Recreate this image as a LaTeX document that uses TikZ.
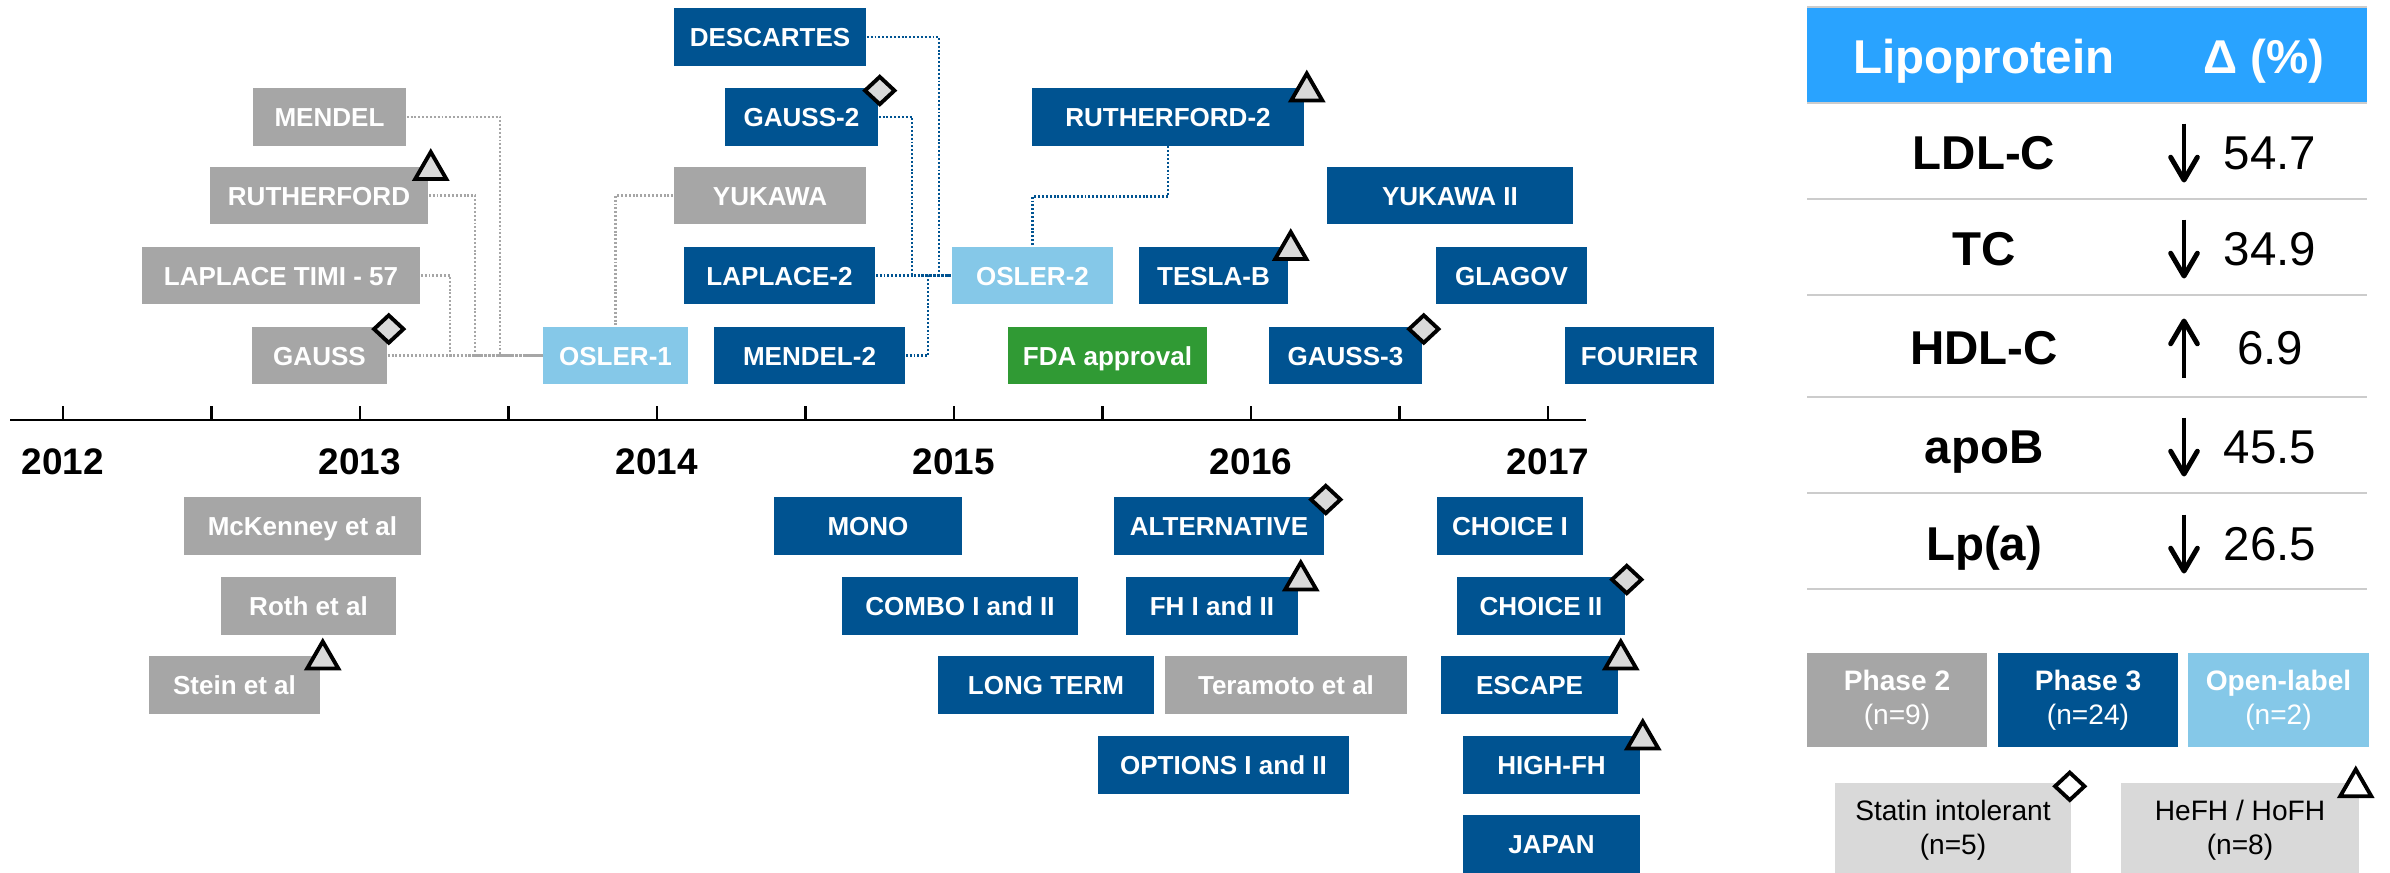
\documentclass[tikz,border=0pt]{standalone}
\usepackage{fontspec}
\setmainfont{Liberation Sans}
\usetikzlibrary{calc,shapes.geometric,arrows.meta}

\definecolor{phblue}{RGB}{0,83,145}
\definecolor{phgray}{RGB}{166,166,166}
\definecolor{olblue}{RGB}{133,200,232}
\definecolor{fdagreen}{RGB}{48,154,52}
\definecolor{headblue}{RGB}{41,163,255}
\definecolor{markgray}{RGB}{217,217,217}
\definecolor{rulegray}{RGB}{204,204,204}

% row centres (pixels, y grows downwards)
\def\ya{37}
\def\yb{117}
\def\yc{195.5}
\def\yd{275.5}
\def\ye{355.5}
\def\yf{526}
\def\yg{606}
\def\yh{685}
\def\yi{765}
\def\yj{844}

\tikzset{
  trial/.style={minimum height=0.575cm, text height=0.19cm, text depth=0pt, inner sep=0pt,
    text=white, font=\bfseries\fontsize{7.4}{9}\selectfont},
  ph2/.style={trial, fill=phgray},
  ph3/.style={trial, fill=phblue},
  olabel/.style={trial, fill=olblue},
  gdot/.style={draw=phgray, line width=0.6pt, dash pattern=on 0.55pt off 0.55pt},
  bdot/.style={draw=phblue, line width=0.6pt, dash pattern=on 0.55pt off 0.55pt},
  dia/.style={diamond, draw, line width=1.1pt, fill=markgray, inner sep=0pt,
    minimum width=0.31cm, minimum height=0.29cm},
  tri/.style={regular polygon, regular polygon sides=3, draw, line width=1.1pt,
    fill=markgray, inner sep=0pt, minimum size=0.36cm},
  year/.style={anchor=base, font=\bfseries\fontsize{10.5}{12}\selectfont},
  headtxt/.style={anchor=base, text=white, font=\bfseries\fontsize{13.5}{16}\selectfont},
  lipo/.style={anchor=base, font=\bfseries\fontsize{13.5}{16}\selectfont},
  delta/.style={anchor=base, font=\fontsize{13.5}{16}\selectfont},
  tabarr/.style={line width=1.4pt, -{Straight Barb[length=6.5pt, width=7.6pt, round]}},
  rule/.style={draw=rulegray, line width=0.7pt},
  legbox/.style={minimum height=0.94cm, inner sep=0pt, align=center,
    font=\fontsize{8}{9.7}\selectfont}
}

\begin{document}
\begin{tikzpicture}[x=0.01cm, y=-0.01cm]
\useasboundingbox (0,0) rectangle (2390,872);
\clip (0,0) rectangle (2390,872);

%% time axis
\draw[line width=0.8pt] (10,420) -- (1586,420);
\foreach \k in {0,...,10}
  \draw[line width=0.6pt] ({63+148.5*\k},406) -- ({63+148.5*\k},420);
\foreach \yr [count=\i from 0] in {2012,...,2017}
  \node[year] (y\yr) at ({63+297*\i},474) {\yr};

%% trials above the axis
\node[ph3, minimum width=1.92cm] (descartes) at (770,\ya) {DESCARTES};
\node[ph2, minimum width=1.53cm] (mendel) at (329.5,\yb) {MENDEL};
\node[ph3, minimum width=1.53cm] (gauss2) at (801.5,\yb) {GAUSS-2};
\node[ph3, minimum width=2.72cm] (ruth2) at (1168,\yb) {RUTHERFORD-2};
\node[ph2, minimum width=2.18cm] (rutherford) at (319,\yc) {RUTHERFORD};
\node[ph2, minimum width=1.92cm] (yukawa) at (770,\yc) {YUKAWA};
\node[ph3, minimum width=2.46cm] (yukawa2) at (1450,\yc) {YUKAWA II};
\node[ph2, minimum width=2.78cm] (laplace) at (281,\yd) {LAPLACE TIMI - 57};
\node[ph3, minimum width=1.91cm] (laplace2) at (779.5,\yd) {LAPLACE-2};
\node[olabel, minimum width=1.61cm] (osler2) at (1032.5,\yd) {OSLER-2};
\node[ph3, minimum width=1.49cm] (teslab) at (1213.5,\yd) {TESLA-B};
\node[ph3, minimum width=1.51cm] (glagov) at (1511.5,\yd) {GLAGOV};
\node[ph2, minimum width=1.35cm] (gauss) at (319.5,\ye) {GAUSS};
\node[olabel, minimum width=1.45cm] (osler1) at (615.5,\ye) {OSLER-1};
\node[ph3, minimum width=1.91cm] (mendel2) at (809.5,\ye) {MENDEL-2};
\node[trial, fill=fdagreen, minimum width=1.99cm] (fda) at (1107.5,\ye) {FDA approval};
\node[ph3, minimum width=1.53cm] (gauss3) at (1345.5,\ye) {GAUSS-3};
\node[ph3, minimum width=1.49cm] (fourier) at (1639.5,\ye) {FOURIER};

%% trials below the axis
\node[ph2, minimum width=2.37cm] (mckenney) at (302.5,\yf) {McKenney et al};
\node[ph3, minimum width=1.88cm] (mono) at (868,\yf) {MONO};
\node[ph3, minimum width=2.10cm] (alternative) at (1219,\yf) {ALTERNATIVE};
\node[ph3, minimum width=1.46cm] (choice1) at (1510,\yf) {CHOICE I};
\node[ph2, minimum width=1.75cm] (roth) at (308.5,\yg) {Roth et al};
\node[ph3, minimum width=2.36cm] (combo) at (960,\yg) {COMBO I and II};
\node[ph3, minimum width=1.72cm] (fh) at (1212,\yg) {FH I and II};
\node[ph3, minimum width=1.68cm] (choice2) at (1541,\yg) {CHOICE II};
\node[ph2, minimum width=1.71cm] (stein) at (234.5,\yh) {Stein et al};
\node[ph3, minimum width=2.16cm] (longterm) at (1046,\yh) {LONG TERM};
\node[ph2, minimum width=2.42cm] (teramoto) at (1286,\yh) {Teramoto et al};
\node[ph3, minimum width=1.77cm] (escape) at (1529.5,\yh) {ESCAPE};
\node[ph3, minimum width=2.51cm] (options) at (1223.5,\yi) {OPTIONS I and II};
\node[ph3, minimum width=1.77cm] (highfh) at (1551.5,\yi) {HIGH-FH};
\node[ph3, minimum width=1.77cm] (japan) at (1551.5,\yj) {JAPAN};

%% extensions into OSLER-1
\draw[gdot] (mendel.east) -| ($(osler1.west)+(-42,0)$) -- (osler1.west);
\draw[gdot] (rutherford.east) -| ($(osler1.west)+(-67,0)$) -- (osler1.west);
\draw[gdot] (laplace.east) -| ($(osler1.west)+(-92,0)$) -- (osler1.west);
\draw[gdot] (gauss.east) -- (osler1.west);
\draw[gdot] (yukawa.west) -| (osler1.north);

%% extensions into OSLER-2
\draw[bdot] (descartes.east) -| ($(osler2.west)+(-12,0)$) -- (osler2.west);
\draw[bdot] (gauss2.east) -| ($(osler2.west)+(-39,0)$) -- (osler2.west);
\draw[bdot] (mendel2.east) -| ($(osler2.west)+(-23,0)$) -- (osler2.west);
\draw[bdot] (laplace2.east) -- (osler2.west);
\draw[bdot] (ruth2.south) -- ++(0,50) -| (osler2.north);

%% statin intolerant (diamond) and FH (triangle) markers
\foreach \b in {gauss,gauss2,gauss3,alternative,choice2}
  \node[dia] at ($(\b.north east)+(1,3)$) {};
\foreach \b in {rutherford,ruth2,teslab,fh,escape,highfh,stein}
  \node[tri] at ($(\b.north east)+(2,4)$) {};

%% lipoprotein table
\fill[headblue] (1807,8) rectangle (2367,102);
\foreach \ly in {7,103,199,295,397,493,589}
  \draw[rule] (1807,\ly) -- (2367,\ly);
\node[headtxt] (hlipo) at (1984,73) {Lipoprotein};
\node[headtxt] (hdelta) at (2264,73) {Δ (\%)};
% s = 1 falls, s = -1 rises
\foreach \nm/\s/\val/\by [count=\i] in {LDL-C/1/54.7/169, TC/1/34.9/265, HDL-C/-1/6.9/364, apoB/1/45.5/463, Lp(a)/1/26.5/560}
  {
  \node[lipo] (lp\i) at (1984,\by) {\nm};
  \node[delta] (val\i) at (2270,\by) {\val};
  \draw[tabarr] (2184,{\by-16-29.5*\s}) -- (2184,{\by-16+29.5*\s});
  }

%% legend
\node[legbox, fill=phgray, text=white, minimum width=1.80cm] (leg2) at (1897,700) {\textbf{Phase 2}\\(n=9)};
\node[legbox, fill=phblue, text=white, minimum width=1.80cm] (leg3) at (2088,700) {\textbf{Phase 3}\\(n=24)};
\node[legbox, fill=olblue, text=white, minimum width=1.81cm] (legol) at (2278.5,700) {\textbf{Open-label}\\(n=2)};
\node[legbox, fill=markgray, minimum width=2.36cm] (legstat) at (1953,830) {Statin intolerant\\(n=5)};
\node[legbox, fill=markgray, minimum width=2.38cm] (leghefh) at (2240,830) {HeFH / HoFH\\(n=8)};
\node[dia, fill=white] at ($(legstat.north east)+(-2,4)$) {};
\node[tri, fill=white] at ($(leghefh.north east)+(-4,5)$) {};

\end{tikzpicture}
\end{document}
